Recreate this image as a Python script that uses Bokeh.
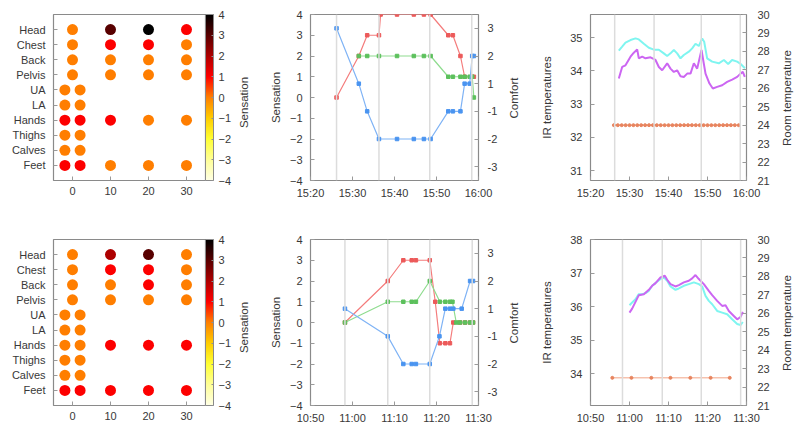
import math
from bokeh.plotting import figure
from bokeh.models import (ColumnDataSource, LinearAxis, Range1d, FixedTicker, ColorBar,
                          LinearColorMapper, Span)
from bokeh.layouts import row, column
from bokeh.embed import file_html
from bokeh.resources import INLINE

FONT = "Liberation Sans"
TXT = "#383838"
TICK_PX = "11px"
LABEL_SIZE = 11.5
LABEL_PX = "11.5px"

# ---------------- data ----------------
BODY_PARTS = ["Head", "Chest", "Back", "Pelvis", "UA", "LA", "Hands", "Thighs", "Calves", "Feet"]
BODY_X_TICKS = [0, 10, 20, 30]
SENS_TICKS = [-4, -3, -2, -1, 0, 1, 2, 3, 4]

# session A (15:20 - 16:00) local sensation per body part
A_PART = ["Head", "Head", "Head", "Head", "Chest", "Chest", "Chest", "Chest",
          "Back", "Back", "Back", "Back", "Pelvis", "Pelvis", "Pelvis", "Pelvis",
          "UA", "UA", "LA", "LA", "Hands", "Hands", "Hands", "Hands", "Hands",
          "Thighs", "Thighs", "Calves", "Calves", "Feet", "Feet", "Feet", "Feet", "Feet"]
A_X = [0, 10, 20, 30, 0, 10, 20, 30,
       0, 10, 20, 30, 0, 10, 20, 30,
       -2, 2, -2, 2, -2, 2, 10, 20, 30,
       -2, 2, -2, 2, -2, 2, 10, 20, 30]
A_SENS = [0, 3, 4, 1, 0, 1, 1, 0,
          0, 0, 0, 0, 0, 0, 0, 0,
          0, 0, 0, 0, 1, 1, 1, 0, 0,
          0, 0, 0, 0, 1, 1, 0, 0, 0]

# session B (10:50 - 11:30)
B_PART = A_PART
B_X = A_X
B_SENS = [0, 2, 3, 0, 0, 1, 1, 0,
          0, 0, 1, 0, 0, 0, 0, 0,
          0, 0, 0, 0, 0, 0, 1, 1, 1,
          0, 0, 0, 0, 1, 1, 1, 1, 1]

# time axes (minutes after start of window)
TIME_TICKS = [0, 10, 20, 30, 40]
A_TIME_LABELS = ["15:20", "15:30", "15:40", "15:50", "16:00"]
B_TIME_LABELS = ["10:50", "11:00", "11:10", "11:20", "11:30"]

A_EVENTS = [6.2, 16.3, 28.4, 38.4]
B_EVENTS = [8.2, 18.4, 28.4, 38.5]

# whole-body sensation (red), thermal sensation 2 (green), comfort (blue)
A_RED_T = [6.2, 11.5, 13.5, 16.3, 16.7, 20.6, 24.6, 27.0, 28.6, 32.8, 33.9, 35.7, 36.7, 38.5, 38.9]
A_RED_V = [0, 2, 3, 3, 4, 4, 4, 4, 4, 3, 3, 2, 1, 1, 1]
A_GREEN_T = [11.5, 13.5, 16.3, 20.6, 24.6, 27.0, 28.6, 32.8, 33.9, 35.7, 36.7, 37.9, 38.5, 38.9]
A_GREEN_V = [2, 2, 2, 2, 2, 2, 2, 1, 1, 1, 1, 1, 1, 0]
A_BLUE_T = [6.2, 11.5, 13.5, 16.3, 20.6, 24.6, 27.0, 28.6, 32.8, 33.9, 35.7, 36.7, 37.9, 38.5, 38.9]
A_COMFORT = [3, 1, -1, -2, -2, -2, -2, -2, -1, -1, -1, 1, 1, 2, 2]

B_RED_T = [8.2, 18.4, 22.1, 24.1, 25.1, 28.4, 29.7, 30.8, 32.1, 33.2, 34.0, 35.6, 36.8, 38.0, 38.7]
B_RED_V = [0, 2, 3, 3, 3, 3, 1, -1, -1, -1, 0, 0, 0, 0, 0]
B_GREEN_T = [8.2, 18.4, 22.1, 24.1, 25.1, 28.4, 30.8, 32.1, 33.2, 33.8, 34.7, 35.6, 36.8, 38.0, 38.7]
B_GREEN_V = [0, 1, 1, 1, 1, 2, 1, 1, 1, 1, 0, 0, 0, 0, 0]
B_BLUE_T = [8.2, 18.4, 22.1, 24.1, 25.1, 28.4, 30.7, 32.1, 33.2, 34.0, 36.0, 38.0, 38.7]
B_COMFORT = [1, -1, -2, -2, -2, -2, -1, 1, 1, 1, 1, 2, 2]

COMFORT_TICKS = [-3, -2, -1, 1, 2, 3]

# IR temperatures (cyan / magenta) and room temperature (orange)
A_CYAN_T = [7.26, 8.12, 8.97, 10.26, 11.54, 12.39, 13.68, 14.96, 16.24, 17.52, 18.8, 19.66,
            20.51, 21.37, 22.22, 23.08, 23.93, 25.21, 26.07, 26.92, 27.78, 28.63, 29.15,
            29.91, 31.2, 32.9, 34.2, 35.3, 36.3, 37.6, 38.5, 39.6]
A_CYAN_V = [34.61, 34.73, 34.85, 34.93, 34.98, 34.95, 34.82, 34.70, 34.64, 34.64, 34.53, 34.45,
            34.53, 34.63, 34.53, 34.38, 34.48, 34.58, 34.68, 34.82, 34.75, 34.98, 34.88,
            34.38, 34.28, 34.23, 34.33, 34.21, 34.33, 34.28, 34.21, 34.08]
A_MAG_T = [7.26, 8.12, 8.97, 10.26, 11.11, 11.97, 12.39, 13.25, 14.1, 15.38, 16.67, 17.52,
           18.38, 19.66, 20.51, 21.37, 22.22, 23.08, 23.93, 24.79, 25.64, 26.5, 27.35,
           28.46, 29.49, 30.51, 31.37, 32.48, 33.76, 35.04, 36.32, 37.61, 38.46, 39.06, 39.57]
A_MAG_V = [33.77, 34.12, 34.17, 34.43, 34.55, 34.65, 34.38, 34.43, 34.38, 34.41, 34.33, 34.12,
           34.02, 34.23, 34.07, 33.97, 34.02, 33.84, 33.82, 33.92, 33.92, 34.23, 34.07,
           34.63, 33.92, 33.62, 33.47, 33.52, 33.57, 33.67, 33.74, 33.82, 33.92, 33.97, 33.82]
A_ROOM_T = [6, 7, 8, 9, 10, 11, 12, 13, 14, 15, 16, 17, 18, 19, 20, 21, 22,
            23, 24, 25, 26, 27, 28, 29, 30, 31, 32, 33, 34, 35, 36, 37, 38]
A_ROOM_V = [24, 24, 24, 24, 24, 24, 24, 24, 24, 24, 24, 24, 24, 24, 24, 24, 24,
            24, 24, 24, 24, 24, 24, 24, 24, 24, 24, 24, 24, 24, 24, 24, 24]

B_CYAN_T = [10.0, 10.68, 11.54, 12.39, 13.25, 14.1, 14.96, 15.81, 16.67, 17.95, 18.8, 19.66,
            20.51, 21.79, 22.65, 23.93, 25.21, 26.5, 27.78, 28.63, 29.49, 30.34, 31.2,
            32.48, 33.76, 35.04, 36.32, 37.61, 38.46, 39.06]
B_CYAN_V = [36.04, 36.12, 36.22, 36.37, 36.37, 36.40, 36.47, 36.62, 36.70, 36.82, 36.87, 36.77,
            36.60, 36.50, 36.54, 36.62, 36.67, 36.72, 36.67, 36.60, 36.32, 36.17, 36.07,
            35.87, 35.82, 35.77, 35.62, 35.48, 35.45, 35.54]
B_MAG_T = [10.0, 10.68, 11.54, 12.39, 13.68, 14.96, 15.81, 16.67, 17.95, 19.06, 19.66, 20.51,
           21.79, 22.65, 23.93, 25.21, 26.07, 26.92, 27.78, 29.06, 30.34, 31.2, 32.48,
           33.76, 34.62, 35.47, 36.75, 37.61, 38.46, 39.06]
B_MAG_V = [35.82, 35.94, 36.14, 36.34, 36.37, 36.50, 36.62, 36.70, 36.87, 36.92, 36.80, 36.67,
           36.60, 36.64, 36.72, 36.77, 36.84, 36.94, 36.82, 36.67, 36.47, 36.34, 36.17,
           36.02, 36.04, 35.87, 35.72, 35.62, 35.69, 35.84]
B_ROOM_T = [5.6, 10.5, 15.6, 20.5, 25.6, 30.8, 35.7]
B_ROOM_V = [22.5, 22.5, 22.5, 22.5, 22.5, 22.5, 22.5]

A_IR_TICKS = [31, 32, 33, 34, 35]
B_IR_TICKS = [34, 35, 36, 37, 38]
ROOM_TICKS = [21, 22, 23, 24, 25, 26, 27, 28, 29, 30]

# ---------------- palette (white-yellow-orange-red-black) ----------------
ANCHORS = [(-4, (255, 255, 228)), (-3, (255, 255, 150)), (-2, (255, 255, 50)),
           (-1, (255, 205, 0)), (0, (255, 128, 0)), (1, (255, 0, 0)),
           (2, (175, 0, 0)), (3, (90, 0, 0)), (4, (0, 0, 0))]


def build_palette(n=256):
    out = []
    for i in range(n):
        v = -4 + 8 * i / (n - 1)
        for (a, ca), (b, cb) in zip(ANCHORS[:-1], ANCHORS[1:]):
            if a <= v <= b:
                f = (v - a) / (b - a)
                c = [round(ca[k] + (cb[k] - ca[k]) * f) for k in range(3)]
                out.append("#%02x%02x%02x" % tuple(c))
                break
    return out


PALETTE = build_palette()
FRAME_H = 166

# Arial / Liberation Sans advance widths (em) for measuring rotated side labels
_W = {"S": .667, "e": .556, "n": .556, "s": .5, "a": .556, "t": .278, "i": .222, "o": .556,
      "C": .722, "m": .833, "f": .278, "r": .333, "R": .722, "p": .556, "u": .556, " ": .278}


def text_len(txt):
    return sum(_W.get(ch, .556) for ch in txt) * LABEL_SIZE


def style_axis(ax, tick_in=4):
    ax.axis_line_color = None
    ax.major_tick_in = tick_in
    ax.major_tick_out = 0
    ax.major_tick_line_color = "#9a9a9a"
    ax.minor_tick_line_color = None
    ax.major_label_text_font = FONT
    ax.major_label_text_font_size = TICK_PX
    ax.major_label_text_color = TXT
    ax.axis_label_text_font = FONT
    ax.axis_label_text_font_size = LABEL_PX
    ax.axis_label_text_font_style = "normal"
    ax.axis_label_text_color = TXT


def side_label(p, text, center, standoff):
    """Right-side label reading bottom-to-top, centred at `center` px above frame bottom."""
    if "lab" not in p.extra_y_ranges:
        rngs = dict(p.extra_y_ranges)
        rngs["lab"] = Range1d(0, FRAME_H)
        p.extra_y_ranges = rngs
    pos = round(center - text_len(text) / 2, 2)
    ax = LinearAxis(y_range_name="lab", ticker=FixedTicker(ticks=[pos]),
                    major_label_overrides={pos: text}, major_label_orientation=math.pi / 2)
    style_axis(ax, tick_in=0)
    ax.major_tick_line_color = None
    ax.major_label_text_font_size = LABEL_PX
    ax.major_label_standoff = standoff
    p.add_layout(ax, "right")


def base_fig(fw, x_range, y_range, left, right, top, bottom):
    p = figure(frame_width=fw, frame_height=FRAME_H, x_range=x_range, y_range=y_range,
               output_backend="svg", toolbar_location=None,
               min_border_left=left, min_border_right=right,
               min_border_top=top, min_border_bottom=bottom)
    p.outline_line_color = "#8a8a8a"
    p.outline_line_width = 1.2
    p.grid.visible = False
    p.background_fill_color = "white"
    p.border_fill_color = "white"
    return p


def time_axis(p, labels):
    ax = p.xaxis[0]
    ax.ticker = FixedTicker(ticks=TIME_TICKS)
    ax.major_label_overrides = {t: l for t, l in zip(TIME_TICKS, labels)}
    style_axis(ax)
    ax.major_label_standoff = 6


def body_panel(parts, xs, vals, top, bottom):
    ys = [len(BODY_PARTS) - BODY_PARTS.index(pt) for pt in parts]
    mapper = LinearColorMapper(palette=PALETTE, low=-4, high=4)
    src = ColumnDataSource(dict(x=xs, y=ys, v=vals))
    p = base_fig(152, Range1d(-5, 35), Range1d(0, 11), 53, 59, top, bottom)
    p.scatter("x", "y", source=src, size=11, marker="circle",
              fill_color={"field": "v", "transform": mapper}, line_color=None)
    xa = p.xaxis[0]
    xa.ticker = FixedTicker(ticks=BODY_X_TICKS)
    style_axis(xa)
    xa.major_label_standoff = 6
    ya = p.yaxis[0]
    ya.ticker = FixedTicker(ticks=list(range(1, len(BODY_PARTS) + 1)))
    ya.major_label_overrides = {len(BODY_PARTS) - i: n for i, n in enumerate(BODY_PARTS)}
    style_axis(ya)
    ya.major_label_standoff = 8
    cb = ColorBar(color_mapper=mapper, width=8, height=FRAME_H, padding=0, margin=5,
                  ticker=FixedTicker(ticks=SENS_TICKS),
                  major_label_text_font=FONT, major_label_text_font_size=TICK_PX,
                  major_label_text_color=TXT, label_standoff=5,
                  major_tick_line_color="#909090", major_tick_in=2, major_tick_out=0,
                  bar_line_color="#8a8a8a", bar_line_width=1,
                  border_line_color=None, background_fill_color=None)
    p.add_layout(cb, "right")
    side_label(p, "Sensation", 78, 10)
    return p


def comfort_pos(c):
    return c - 0.5 if c > 0 else c + 0.5


def sens_panel(labels, events, rt, rv, gt, gv, bt, bc, top, bottom):
    p = base_fig(168, Range1d(0, 40), Range1d(-4, 4), 46, 52, top, bottom)
    p.extra_y_ranges = {"comfort": Range1d(-3, 3)}
    for e in events:
        p.add_layout(Span(location=e, dimension="height", line_color="#dcdcdc", line_width=1.5))
    p.line(rt, rv, line_color="#f47c7c", line_width=1.2)
    p.scatter(rt, rv, size=3.5, marker="square", color="#ec5a5a")
    p.line(gt, gv, line_color="#8fdc8f", line_width=1.2)
    p.scatter(gt, gv, size=3.5, marker="square", color="#5cc05c")
    bpos = [comfort_pos(c) for c in bc]
    p.line(bt, bpos, y_range_name="comfort", line_color="#7fb3f5", line_width=1.2)
    p.scatter(bt, bpos, y_range_name="comfort", size=3.5, marker="square", color="#4a94f0")
    time_axis(p, labels)
    ya = p.yaxis[0]
    ya.ticker = FixedTicker(ticks=SENS_TICKS)
    ya.axis_label = "Sensation"
    style_axis(ya)
    ya.major_label_standoff = 8
    ya.axis_label_standoff = 5
    ra = LinearAxis(y_range_name="comfort",
                    ticker=FixedTicker(ticks=[comfort_pos(c) for c in COMFORT_TICKS]),
                    major_label_overrides={comfort_pos(c): str(c) for c in COMFORT_TICKS})
    style_axis(ra)
    ra.major_label_standoff = 9
    p.add_layout(ra, "right")
    side_label(p, "Comfort", 82.5, 14)
    return p


def ir_panel(labels, events, ir_range, ir_ticks, ct, cv, mt, mv, ot, ov, top, bottom):
    p = base_fig(156, Range1d(0, 40), Range1d(*ir_range), 60, 54, top, bottom)
    p.extra_y_ranges = {"room": Range1d(21, 30)}
    for e in events:
        p.add_layout(Span(location=e, dimension="height", line_color="#dcdcdc", line_width=1.5))
    p.line(ct, cv, line_color="#7ff5f0", line_width=2)
    p.line(mt, mv, line_color="#cc66f2", line_width=2)
    p.line(ot, ov, y_range_name="room", line_color="#f2a486", line_width=1)
    p.scatter(ot, ov, y_range_name="room", size=3, marker="circle", color="#e8845e")
    time_axis(p, labels)
    ya = p.yaxis[0]
    ya.ticker = FixedTicker(ticks=ir_ticks)
    ya.axis_label = "IR temperatures"
    style_axis(ya)
    ya.major_label_standoff = 8
    ya.axis_label_standoff = 14
    ra = LinearAxis(y_range_name="room", ticker=FixedTicker(ticks=ROOM_TICKS))
    style_axis(ra)
    ra.major_label_standoff = 11
    p.add_layout(ra, "right")
    side_label(p, "Room temperature", 82.5, 15)
    return p


TOP1, BOT1, TOP2, BOT2 = 14, 45, 14, 20

p1 = body_panel(A_PART, A_X, A_SENS, TOP1, BOT1)
p2 = sens_panel(A_TIME_LABELS, A_EVENTS, A_RED_T, A_RED_V, A_GREEN_T, A_GREEN_V,
                A_BLUE_T, A_COMFORT, TOP1, BOT1)
p3 = ir_panel(A_TIME_LABELS, A_EVENTS, (30.7, 35.7), A_IR_TICKS, A_CYAN_T, A_CYAN_V,
              A_MAG_T, A_MAG_V, A_ROOM_T, A_ROOM_V, TOP1, BOT1)
p4 = body_panel(B_PART, B_X, B_SENS, TOP2, BOT2)
p5 = sens_panel(B_TIME_LABELS, B_EVENTS, B_RED_T, B_RED_V, B_GREEN_T, B_GREEN_V,
                B_BLUE_T, B_COMFORT, TOP2, BOT2)
p6 = ir_panel(B_TIME_LABELS, B_EVENTS, (33.05, 38.0), B_IR_TICKS, B_CYAN_T, B_CYAN_V,
              B_MAG_T, B_MAG_V, B_ROOM_T, B_ROOM_V, TOP2, BOT2)

layout = column(row(p1, p2, p3, spacing=0), row(p4, p5, p6, spacing=0), spacing=0)

open("out.html", "w").write(file_html(layout, INLINE))
